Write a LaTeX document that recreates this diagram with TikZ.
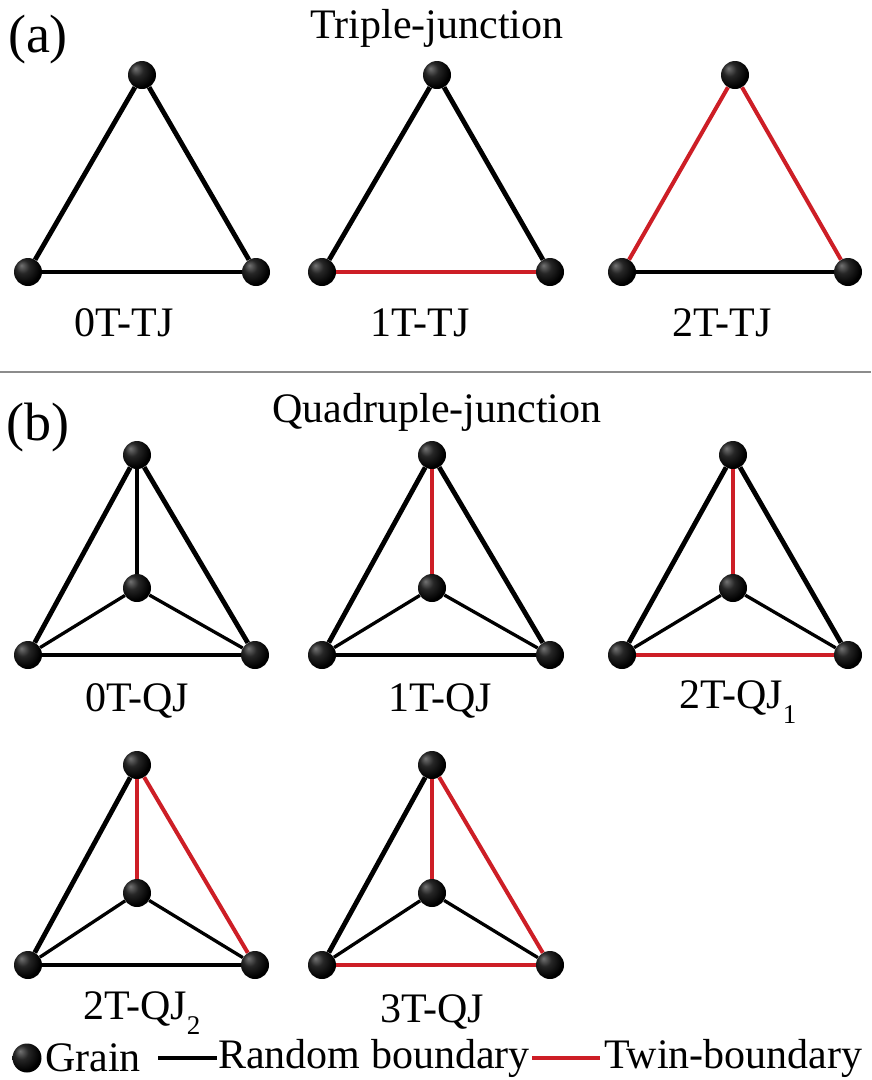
\documentclass[tikz,border=0pt]{standalone}
\usepackage{fontspec}
\setmainfont{Liberation Serif}
\definecolor{twin}{RGB}{205,30,38}
\pgfdeclareradialshading{grainball}{\pgfpoint{-12bp}{12bp}}{color(0bp)=(black!55); color(12bp)=(black!85); color(28bp)=(black); color(60bp)=(black)}
\tikzset{
  grain/.style={circle, minimum size=28pt, inner sep=0pt, shading=grainball},
  rb/.style={line width=4.8pt, black},
  bb/.style={line width=4pt, black},
  tb/.style={line width=4pt, twin},
  ib/.style={line width=3.3pt, black},
  lab/.style={font=\fontsize{42}{50}\selectfont, inner sep=0pt},
  panel/.style={font=\fontsize{54}{62}\selectfont, inner sep=0pt},
}
\newcommand{\sbs}[1]{\raisebox{-0.35em}{\fontsize{27}{30}\selectfont #1}}
\begin{document}
\begin{tikzpicture}[x=1pt,y=-1pt]
\useasboundingbox (0,0) rectangle (871,1080);
\fill[white] (0,0) rectangle (871,1080);

% panel labels and titles
\node[panel] (pa) at (38,40) {(a)};
\node[lab] (ta) at (437,28) {Triple-junction};
\coordinate (s1) at (0,372);
\coordinate (s2) at (871,372);
\draw[line width=2.5pt, black!45] (s1) -- (s2);
\node[panel] (pb) at (38,428) {(b)};
\node[lab] (tb) at (437,412) {Quadruple-junction};

% ---------- (a) triple junctions ----------
% 0T-TJ
\node[grain] (a1t) at (142,75) {};
\node[grain] (a1l) at (28,272) {};
\node[grain] (a1r) at (256,272) {};
\draw[rb] (a1t) -- (a1l);
\draw[rb] (a1t) -- (a1r);
\draw[bb] (a1l) -- (a1r);
\node[lab] (l1) at (124,323) {0T-TJ};
% 1T-TJ
\node[grain] (a2t) at (437,75) {};
\node[grain] (a2l) at (322,272) {};
\node[grain] (a2r) at (550,272) {};
\draw[rb] (a2t) -- (a2l);
\draw[rb] (a2t) -- (a2r);
\draw[tb] (a2l) -- (a2r);
\node[lab] (l2) at (420,323) {1T-TJ};
% 2T-TJ
\node[grain] (a3t) at (735,75) {};
\node[grain] (a3l) at (622,272) {};
\node[grain] (a3r) at (848,272) {};
\draw[tb] (a3t) -- (a3l);
\draw[tb] (a3t) -- (a3r);
\draw[bb] (a3l) -- (a3r);
\node[lab] (l3) at (722,323) {2T-TJ};

% ---------- (b) quadruple junctions ----------
% 0T-QJ
\node[grain] (b1t) at (137,455) {};
\node[grain] (b1c) at (137,588) {};
\node[grain] (b1l) at (28,655) {};
\node[grain] (b1r) at (255,655) {};
\draw[rb] (b1t) -- (b1l);
\draw[rb] (b1t) -- (b1r);
\draw[bb] (b1l) -- (b1r);
\draw[ib] (b1t) -- (b1c);
\draw[ib] (b1c) -- (b1l);
\draw[ib] (b1c) -- (b1r);
\node[lab] (l4) at (137,701) {0T-QJ};
% 1T-QJ
\node[grain] (b2t) at (432,455) {};
\node[grain] (b2c) at (432,588) {};
\node[grain] (b2l) at (322,655) {};
\node[grain] (b2r) at (550,655) {};
\draw[rb] (b2t) -- (b2l);
\draw[rb] (b2t) -- (b2r);
\draw[bb] (b2l) -- (b2r);
\draw[tb] (b2t) -- (b2c);
\draw[ib] (b2c) -- (b2l);
\draw[ib] (b2c) -- (b2r);
\node[lab] (l5) at (440,701) {1T-QJ};
% 2T-QJ1
\node[grain] (b3t) at (733,455) {};
\node[grain] (b3c) at (733,588) {};
\node[grain] (b3l) at (622,655) {};
\node[grain] (b3r) at (848,655) {};
\draw[rb] (b3t) -- (b3l);
\draw[rb] (b3t) -- (b3r);
\draw[tb] (b3l) -- (b3r);
\draw[tb] (b3t) -- (b3c);
\draw[ib] (b3c) -- (b3l);
\draw[ib] (b3c) -- (b3r);
\node[lab] (l6) at (738,702) {2T-QJ\sbs{1}};
% 2T-QJ2
\node[grain] (b4t) at (137,765) {};
\node[grain] (b4c) at (137,893) {};
\node[grain] (b4l) at (28,965) {};
\node[grain] (b4r) at (255,965) {};
\draw[rb] (b4t) -- (b4l);
\draw[tb] (b4t) -- (b4r);
\draw[bb] (b4l) -- (b4r);
\draw[tb] (b4t) -- (b4c);
\draw[ib] (b4c) -- (b4l);
\draw[ib] (b4c) -- (b4r);
\node[lab] (l7) at (142,1013) {2T-QJ\sbs{2}};
% 3T-QJ
\node[grain] (b5t) at (432,765) {};
\node[grain] (b5c) at (432,893) {};
\node[grain] (b5l) at (322,965) {};
\node[grain] (b5r) at (550,965) {};
\draw[rb] (b5t) -- (b5l);
\draw[tb] (b5t) -- (b5r);
\draw[tb] (b5l) -- (b5r);
\draw[tb] (b5t) -- (b5c);
\draw[ib] (b5c) -- (b5l);
\draw[ib] (b5c) -- (b5r);
\node[lab] (l8) at (432,1012) {3T-QJ};

% ---------- legend ----------
\node[grain, minimum size=29pt] (g) at (27,1058) {};
\node[lab, anchor=west] (gt) at (45,1058) {Grain};
\coordinate (r1) at (158,1058);
\coordinate (r2) at (217,1058);
\draw[line width=4pt, black] (r1) -- (r2);
\node[lab, anchor=west] (rt) at (218,1058) {Random boundary};
\coordinate (t1) at (532,1058);
\coordinate (t2) at (600,1058);
\draw[line width=4pt, twin] (t1) -- (t2);
\node[lab, anchor=west] (tt) at (604,1058) {Twin-boundary};
\end{tikzpicture}
\end{document}
